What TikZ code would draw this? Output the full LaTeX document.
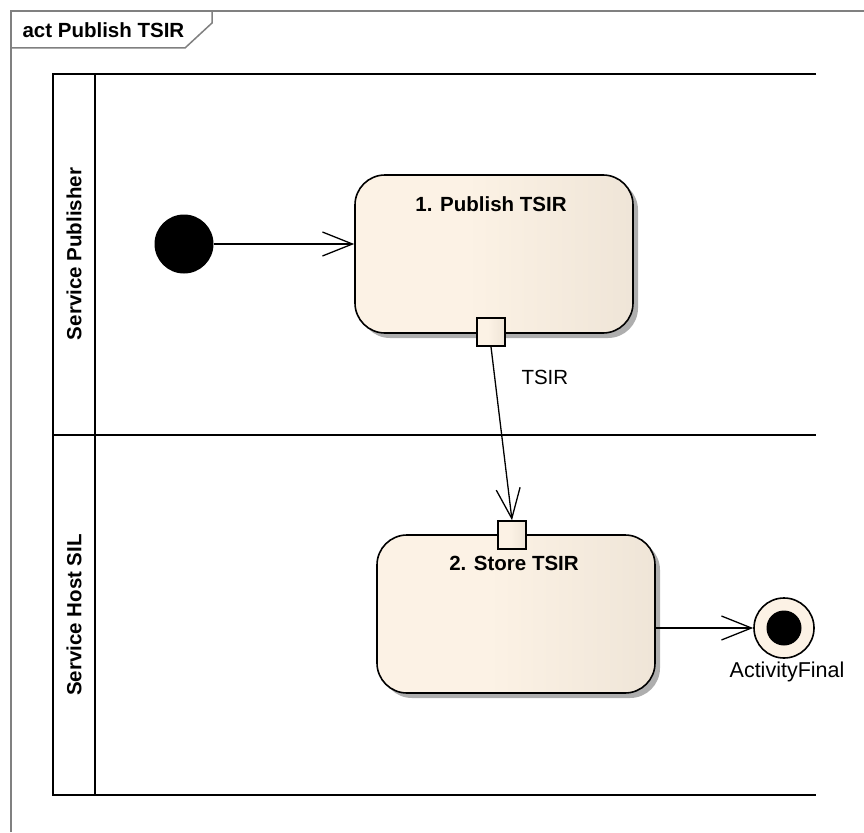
\documentclass[tikz,border=0pt]{standalone}
\usepackage{fontspec}
\setmainfont{Liberation Sans}
\usetikzlibrary{arrows.meta,shadows}
\definecolor{actlight}{HTML}{FCF2E5}
\definecolor{actdark}{HTML}{E4DACC}
\definecolor{framegray}{HTML}{808080}
\pgfdeclarehorizontalshading{actshade}{100bp}{color(0bp)=(actlight); color(45bp)=(actlight); color(100bp)=(actdark)}
\begin{document}
\begin{tikzpicture}[x=1pt,y=-1pt,
  every node/.style={font=\fontsize{20.5}{24}\selectfont},
  framefill/.style={draw=framegray, line width=1.5pt},
  laneline/.style={draw=black, line width=2.8pt},
  action/.style={draw=black, line width=1.6pt, rounded corners=30pt,
    shading=actshade, minimum width=278pt, minimum height=158pt,
    drop shadow={shadow xshift=5pt, shadow yshift=-5pt, fill=black!45, opacity=.7}},
  pin/.style={draw=black, line width=1.6pt, shading=actshade,
    minimum size=28pt, inner sep=0pt},
  flow/.style={draw=black, line width=1.3pt,
    -{Straight Barb[length=30pt, width=24pt, line width=1.3pt]}},
  title/.style={font=\bfseries\fontsize{20.5}{24}\selectfont}
]
\useasboundingbox (0,0) rectangle (864,832);
\fill[white] (0,0) rectangle (864,832);

% diagram frame with its name tab
\draw[framefill] (11,832) -- (11,11) -- (864,11);
\draw[framefill] (212,11) -- (212,23) -- (185,48) -- (11,48);
\node[title, anchor=west] (frametitle) at (19,30) {act Publish TSIR};

% swimlanes
\draw[laneline] (816,74) -- (53,74) -- (53,795) -- (816,795);
\draw[laneline] (95,74) -- (95,795);
\draw[laneline] (53,435) -- (816,435);
\node[title, rotate=90] (lane1) at (74,254) {Service Publisher};
\node[title, rotate=90] (lane2) at (74,615) {Service Host SIL};

% start node
\node[circle, fill=black, minimum size=59pt, inner sep=0pt] (start) at (184,244) {};

% actions
\node[action] (publish) at (494,254) {};
\node[title] (publishtitle) at (491,204) {1. Publish TSIR};
\node[action] (store) at (516,614) {};
\node[title] (storetitle) at (514,563) {2. Store TSIR};

% pins
\node[pin] (outpin) at (491,332) {};
\node[anchor=west] (outpinlabel) at (518,377) {TSIR};
\node[pin] (inpin) at (512,535) {};

% activity final
\node[circle, draw=black, line width=1.6pt, fill=actlight, minimum size=60pt, inner sep=0pt] (final) at (784,628) {};
\node[circle, fill=black, minimum size=35pt, inner sep=0pt] (finaldot) at (final.center) {};
\node[font=\fontsize{21.5}{24}\selectfont] (finallabel) at (787,672) {ActivityFinal};

% control and object flows
\draw[flow] (start.east) -- (publish.west |- start.east);
\draw[flow] (outpin.south) -- (inpin.north);
\draw[flow] (store.east |- final.west) -- (final.west);
\end{tikzpicture}
\end{document}
